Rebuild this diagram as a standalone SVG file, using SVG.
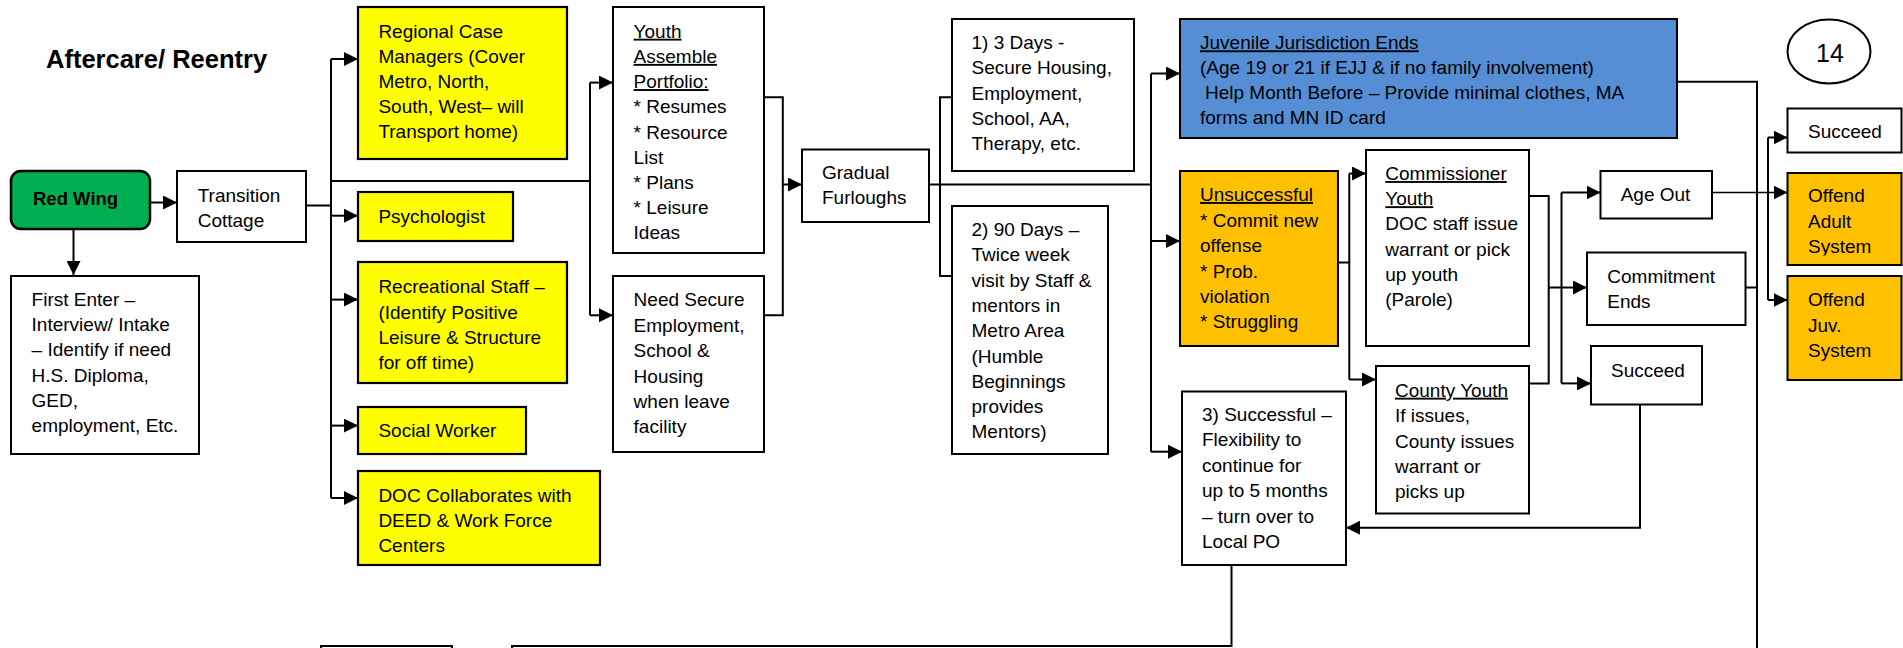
<svg xmlns="http://www.w3.org/2000/svg" width="1903" height="648" viewBox="0 0 1903 648">
<style>
.t{font-family:"Liberation Sans",Arial,sans-serif;font-size:19px;fill:#000}
.b{font-weight:bold}
.u{text-decoration:underline}
.box{fill:#fff;stroke:#000;stroke-width:2}
.yel{fill:#FFFF00;stroke:#000;stroke-width:2.2}
.org{fill:#FFC000;stroke:#000;stroke-width:2}
.blu{fill:#558ED5;stroke:#000;stroke-width:2}
.grn{fill:#00B050;stroke:#000;stroke-width:2.5}
.c{fill:none;stroke:#000;stroke-width:2}
.a{fill:none;stroke:#000;stroke-width:2;marker-end:url(#arr)}
</style>
<defs>
<marker id="arr" viewBox="0 0 10 10" refX="10" refY="5" markerWidth="14" markerHeight="14" markerUnits="userSpaceOnUse" orient="auto" preserveAspectRatio="none"><path d="M0,0 L10,5 L0,10 z" fill="#000"/></marker>
<clipPath id="clipAdult"><rect x="1788" y="174" width="113" height="81.5"/></clipPath>
</defs>
<rect width="1903" height="648" fill="#fff"/>

<g id="connectors">
<path class="a" d="M150,202.5 H177"/>
<path class="a" d="M73.5,229 V275"/>
<path class="c" d="M306,205.5 H331 M331,59 V498 M331,181 H590 M590,82.6 V315.3"/>
<path class="a" d="M331,59 H358"/>
<path class="a" d="M331,215.7 H358"/>
<path class="a" d="M331,299.6 H358"/>
<path class="a" d="M331,425.6 H358"/>
<path class="a" d="M331,498 H358"/>
<path class="a" d="M590,82.6 H613"/>
<path class="a" d="M590,315.3 H613"/>
<path class="c" d="M764,97.3 H782.8 V315.3 H764"/>
<path class="a" d="M782.8,184.5 H802"/>
<path class="c" d="M929,184.5 H1151 M952,97.3 H940 V276 H952 M1151,73.5 V451.7"/>
<path class="a" d="M1151,73.5 H1180"/>
<path class="a" d="M1151,241 H1180"/>
<path class="a" d="M1151,451.7 H1182"/>
<path class="c" d="M1677,81.8 H1757 V648"/>
<path class="c" d="M1338,262.5 H1349.3 M1349.3,173.5 V379.5"/>
<path class="a" d="M1349.3,173.5 H1366"/>
<path class="a" d="M1349.3,379.5 H1376"/>
<path class="c" d="M1529,196 H1548.7 V383.4 H1529"/>
<path class="a" d="M1548.7,287.5 H1587"/>
<path class="c" d="M1561.5,192.5 V383.4"/>
<path class="a" d="M1561.5,192.5 H1600.5"/>
<path class="a" d="M1561.5,383.4 H1591"/>
<path class="c" d="M1745.6,287.5 H1757"/>
<path class="a" d="M1712,192.5 H1787.5" style="stroke-width:1.5"/>
<path class="c" d="M1768,137.5 V300"/>
<path class="a" d="M1768,137.5 H1787.5"/>
<path class="a" d="M1768,300 H1787.5"/>
<path class="a" d="M1640,405 V527.7 H1346"/>
<path class="c" d="M1231.5,565 V646 H512 V660"/>
</g>

<text class="t b" x="46" y="67.5" style="font-size:25.5px">Aftercare/ Reentry</text>

<g id="redwing">
<rect class="grn" x="11" y="171" width="139" height="58" rx="10"/>
<text class="t b" x="33" y="204.5" style="font-size:18.5px">Red Wing</text>
</g>

<g id="firstenter">
<rect class="box" x="11" y="276" width="188" height="178"/>
<text class="t"><tspan x="31.6" y="306">First Enter –</tspan><tspan x="31.6" y="331.2">Interview/ Intake</tspan><tspan x="31.6" y="356.4">– Identify if need</tspan><tspan x="31.6" y="381.6">H.S. Diploma,</tspan><tspan x="31.6" y="406.8">GED,</tspan><tspan x="31.6" y="432">employment, Etc.</tspan></text>
</g>

<g id="transition">
<rect class="box" x="177" y="171" width="129" height="71"/>
<text class="t"><tspan x="197.7" y="201.7">Transition</tspan><tspan x="197.7" y="226.7">Cottage</tspan></text>
</g>

<g id="regional">
<rect class="yel" x="358" y="7" width="209" height="152"/>
<text class="t"><tspan x="378.4" y="37.7">Regional Case</tspan><tspan x="378.4" y="62.7">Managers (Cover</tspan><tspan x="378.4" y="87.7">Metro, North,</tspan><tspan x="378.4" y="112.7">South, West– will</tspan><tspan x="378.4" y="137.7">Transport home)</tspan></text>
</g>

<g id="psychologist">
<rect class="yel" x="358" y="192" width="155" height="49"/>
<text class="t" x="378.4" y="222.7">Psychologist</text>
</g>

<g id="recreational">
<rect class="yel" x="358" y="262" width="209" height="121"/>
<text class="t"><tspan x="378.4" y="293.3">Recreational Staff –</tspan><tspan x="378.4" y="318.5">(Identify Positive</tspan><tspan x="378.4" y="343.5">Leisure &amp; Structure</tspan><tspan x="378.4" y="368.7">for off time)</tspan></text>
</g>

<g id="socialworker">
<rect class="yel" x="358" y="407" width="168" height="47"/>
<text class="t" x="378.4" y="436.7">Social Worker</text>
</g>

<g id="doc">
<rect class="yel" x="358" y="471" width="242" height="94"/>
<text class="t"><tspan x="378.4" y="501.7">DOC Collaborates with</tspan><tspan x="378.4" y="527">DEED &amp; Work Force</tspan><tspan x="378.4" y="552.3">Centers</tspan></text>
</g>

<g id="youth">
<rect class="box" x="613" y="7" width="151" height="246"/>
<text class="t"><tspan class="u" x="633.6" y="37.7">Youth</tspan><tspan class="u" x="633.6" y="62.9">Assemble</tspan><tspan class="u" x="633.6" y="88.1">Portfolio:</tspan><tspan x="633.6" y="113.3">* Resumes</tspan><tspan x="633.6" y="138.5">* Resource</tspan><tspan x="633.6" y="163.7">List</tspan><tspan x="633.6" y="188.9">* Plans</tspan><tspan x="633.6" y="214.1">* Leisure</tspan><tspan x="633.6" y="239.3">Ideas</tspan></text>
</g>

<g id="needsecure">
<rect class="box" x="613" y="276" width="151" height="176"/>
<text class="t"><tspan x="633.6" y="306">Need Secure</tspan><tspan x="633.6" y="331.5">Employment,</tspan><tspan x="633.6" y="357">School &amp;</tspan><tspan x="633.6" y="382.5">Housing</tspan><tspan x="633.6" y="408">when leave</tspan><tspan x="633.6" y="433.3">facility</tspan></text>
</g>

<g id="gradual">
<rect class="box" x="802" y="149.5" width="127" height="72.5"/>
<text class="t"><tspan x="822" y="179.3">Gradual</tspan><tspan x="822" y="204">Furloughs</tspan></text>
</g>

<g id="days3">
<rect class="box" x="952" y="19" width="182" height="152"/>
<text class="t"><tspan x="971.5" y="49">1) 3 Days -</tspan><tspan x="971.5" y="74.3">Secure Housing,</tspan><tspan x="971.5" y="99.5">Employment,</tspan><tspan x="971.5" y="124.8">School, AA,</tspan><tspan x="971.5" y="150">Therapy, etc.</tspan></text>
</g>

<g id="days90">
<rect class="box" x="952" y="206" width="156" height="248"/>
<text class="t"><tspan x="971.5" y="236">2) 90 Days –</tspan><tspan x="971.5" y="261.3">Twice week</tspan><tspan x="971.5" y="286.6">visit by Staff &amp;</tspan><tspan x="971.5" y="311.9">mentors in</tspan><tspan x="971.5" y="337.2">Metro Area</tspan><tspan x="971.5" y="362.5">(Humble</tspan><tspan x="971.5" y="387.8">Beginnings</tspan><tspan x="971.5" y="413.1">provides</tspan><tspan x="971.5" y="438.4">Mentors)</tspan></text>
</g>

<g id="juvenile">
<rect class="blu" x="1180" y="19" width="497" height="119"/>
<text class="t"><tspan class="u" x="1200" y="49.3">Juvenile Jurisdiction Ends</tspan><tspan x="1200" y="74.3">(Age 19 or 21 if EJJ &amp; if no family involvement)</tspan><tspan x="1205" y="99.3">Help Month Before – Provide minimal clothes, MA</tspan><tspan x="1200" y="124.3">forms and MN ID card</tspan></text>
</g>

<g id="unsuccessful">
<rect class="org" x="1180" y="171" width="158" height="175"/>
<text class="t"><tspan class="u" x="1200" y="201">Unsuccessful</tspan><tspan x="1200" y="226.5">* Commit new</tspan><tspan x="1200" y="252">offense</tspan><tspan x="1200" y="277.5">* Prob.</tspan><tspan x="1200" y="303">violation</tspan><tspan x="1200" y="328.3">* Struggling</tspan></text>
</g>

<g id="successful">
<rect class="box" x="1182" y="391.5" width="164" height="173.5"/>
<text class="t"><tspan x="1202" y="420.7">3) Successful –</tspan><tspan x="1202" y="446.2">Flexibility to</tspan><tspan x="1202" y="471.7">continue for</tspan><tspan x="1202" y="497.2">up to 5 months</tspan><tspan x="1202" y="522.7">– turn over to</tspan><tspan x="1202" y="548.2">Local PO</tspan></text>
</g>

<g id="commissioner">
<rect class="box" x="1366" y="150" width="163" height="196"/>
<text class="t"><tspan class="u" x="1385.3" y="180">Commissioner</tspan><tspan class="u" x="1385.3" y="205.2">Youth</tspan><tspan x="1385.3" y="230.4">DOC staff issue</tspan><tspan x="1385.3" y="255.6">warrant or pick</tspan><tspan x="1385.3" y="280.8">up youth</tspan><tspan x="1385.3" y="306">(Parole)</tspan></text>
</g>

<g id="county">
<rect class="box" x="1376" y="366" width="153" height="147.5"/>
<text class="t"><tspan class="u" x="1395" y="396.7">County Youth</tspan><tspan x="1395" y="422.1">If issues,</tspan><tspan x="1395" y="447.5">County issues</tspan><tspan x="1395" y="472.9">warrant or</tspan><tspan x="1395" y="498.3">picks up</tspan></text>
</g>

<g id="ageout">
<rect class="box" x="1600.5" y="171" width="111.5" height="47.5"/>
<text class="t" x="1620.7" y="201">Age Out</text>
</g>

<g id="commitment">
<rect class="box" x="1587" y="252.5" width="158.5" height="72.5"/>
<text class="t"><tspan x="1607.3" y="283.3">Commitment</tspan><tspan x="1607.3" y="308.3">Ends</tspan></text>
</g>

<g id="succeed-mid">
<rect class="box" x="1591" y="346" width="111" height="58.5"/>
<text class="t" x="1611" y="376.7">Succeed</text>
</g>

<g id="page-number">
<ellipse cx="1829" cy="51.5" rx="41.5" ry="32" fill="#fff" stroke="#000" stroke-width="2"/>
<text class="t" x="1830" y="61.5" text-anchor="middle" style="font-size:25px">14</text>
</g>

<g id="succeed-right">
<rect class="box" x="1787.5" y="108.5" width="114" height="44"/>
<text class="t" x="1808" y="138.3">Succeed</text>
</g>

<g id="offend-adult">
<rect class="org" x="1787.5" y="173" width="114" height="92"/>
<text class="t" clip-path="url(#clipAdult)"><tspan x="1808" y="202.3">Offend</tspan><tspan x="1808" y="227.7">Adult</tspan><tspan x="1808" y="253.3">System</tspan></text>
</g>

<g id="offend-juv">
<rect class="org" x="1787.5" y="276" width="114" height="104"/>
<text class="t"><tspan x="1808" y="305.7">Offend</tspan><tspan x="1808" y="331.5">Juv.</tspan><tspan x="1808" y="357.3">System</tspan></text>
</g>

<g id="bottom-box">
<rect class="box" x="321" y="646" width="131" height="40"/>
</g>
</svg>
